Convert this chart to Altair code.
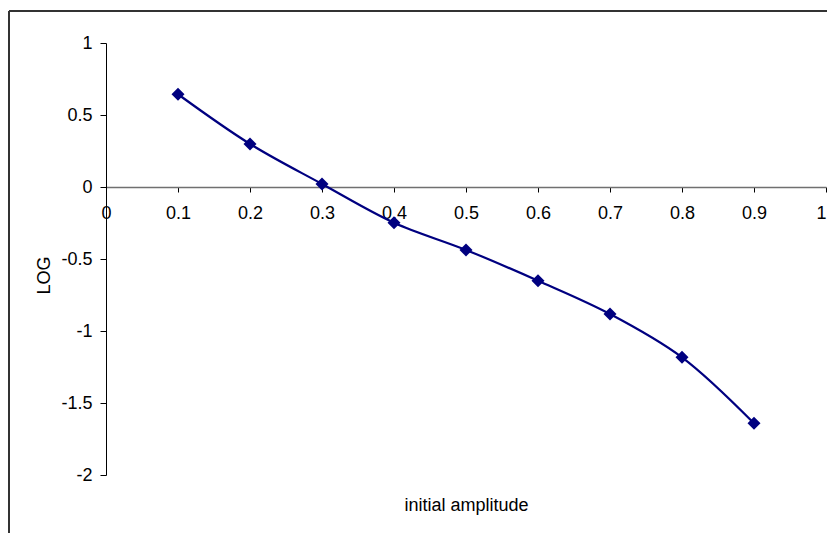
import altair as alt
import pandas as pd

amplitude = [0.1, 0.2, 0.3, 0.4, 0.5, 0.6, 0.7, 0.8, 0.9]
log_value = [0.644, 0.299, 0.021, -0.248, -0.437, -0.651, -0.882, -1.183, -1.641]
x_ticks = [0, 0.1, 0.2, 0.3, 0.4, 0.5, 0.6, 0.7, 0.8, 0.9, 1]
y_ticks = [-2, -1.5, -1, -0.5, 0, 0.5, 1]

df = pd.DataFrame({"amp": amplitude, "log": log_value})

FONT = "Liberation Sans"
NAVY = "#000080"
FS = 18

x_enc = alt.X(
    "amp:Q",
    scale=alt.Scale(domain=[0, 1], nice=False, zero=False),
    axis=alt.Axis(
        values=x_ticks,
        title="initial amplitude",
        offset=-288,
        grid=False,
        domainColor="#707070",
        domainWidth=1.5,
        tickColor="#000000",
        tickSize=5,
        labelPadding=12,
        labelFont=FONT,
        labelFontSize=FS,
        labelColor="#000000",
        labelFlush=False,
        labelOverlap=False,
        labelBound=False,
        labelAlign={"condition": {"test": "datum.value == 1", "value": "right"}, "value": "center"},
        labelExpr="toString(datum.value)",
        titleFont=FONT,
        titleFontSize=FS,
        titleFontWeight="normal",
        titleColor="#000000",
        titleX=360,
        titleY=318,
        titleBaseline="middle",
        titleAlign="center",
    ),
)

y_enc = alt.Y(
    "log:Q",
    scale=alt.Scale(domain=[-2, 1], nice=False, zero=False),
    axis=alt.Axis(
        values=y_ticks,
        title="LOG",
        grid=False,
        domainColor="#000000",
        domainWidth=1,
        tickColor="#000000",
        tickSize=6,
        labelPadding=8,
        labelFont=FONT,
        labelFontSize=FS,
        labelColor="#000000",
        labelFlush=False,
        labelOverlap=False,
        labelBound=False,
        labelExpr="toString(datum.value)",
        titleFont=FONT,
        titleFontSize=FS,
        titleFontWeight="normal",
        titleColor="#000000",
        titleX=-62,
        titleY=232,
        titleAngle=270,
        titleBaseline="middle",
        titleAlign="center",
    ),
)

line = alt.Chart(df).mark_line(
    color=NAVY, strokeWidth=2.2, interpolate="catmull-rom"
).encode(x=x_enc, y=y_enc)

points = alt.Chart(df).mark_point(
    shape="diamond", filled=True, color=NAVY, size=170, opacity=1
).encode(x="amp:Q", y="log:Q")

border_left = alt.Chart(df).mark_rule(color="#333333", strokeWidth=2).encode(
    x=alt.value(-97), y=alt.value(-32), y2=alt.value(700)
)
border_top = alt.Chart(df).mark_rule(color="#333333", strokeWidth=2).encode(
    x=alt.value(-97), x2=alt.value(900), y=alt.value(-32)
)

chart = alt.layer(border_left, border_top, line, points).properties(
    width=720,
    height=432,
    padding={"left": 98, "top": 35, "right": 1, "bottom": 58},
    autosize=alt.AutoSizeParams(type="none"),
).configure_view(stroke=None)

chart.save("out.html", embed_options={"renderer": "svg", "actions": False})
